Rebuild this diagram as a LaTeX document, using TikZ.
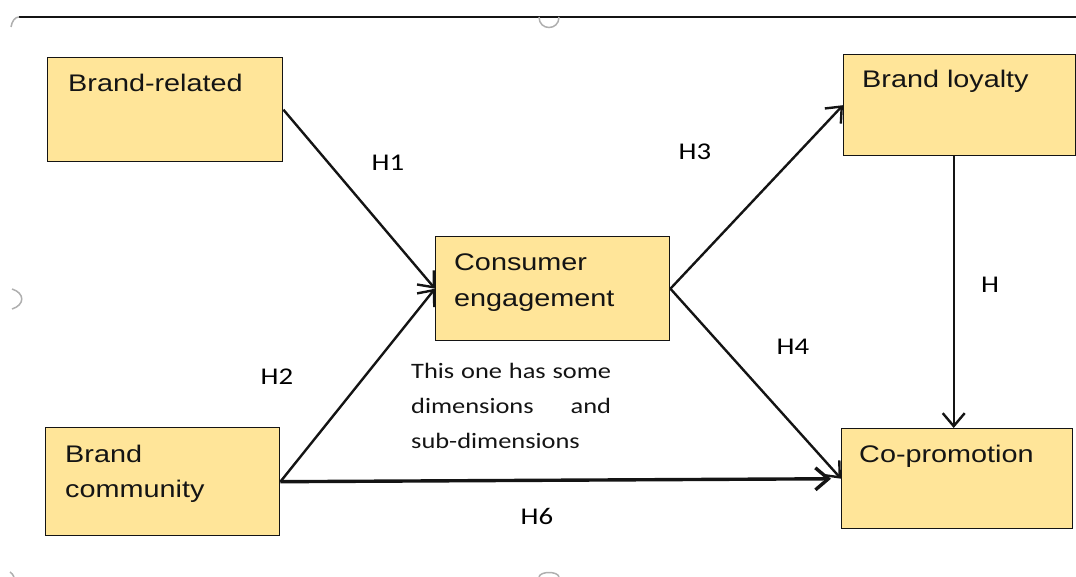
\documentclass[tikz,border=0pt]{standalone}
\usepackage{fontspec}
\setmainfont{Liberation Sans}
\newfontfamily\boxfont[FakeStretch=1.2]{Liberation Sans}
\newfontfamily\labfont[FakeStretch=1.2]{Carlito}
\usetikzlibrary{arrows.meta}
\definecolor{boxfill}{RGB}{255,229,153}
\definecolor{handle}{RGB}{175,175,175}
\definecolor{ink}{RGB}{20,20,20}

\begin{document}
\begin{tikzpicture}[x=1pt,y=-1pt,
  box/.style={draw=ink, line width=1.4pt, fill=boxfill, anchor=north west, inner sep=0pt},
  boxtext/.style={anchor=base west, inner sep=0pt, text=ink, font=\boxfont\fontsize{24}{35.5}\selectfont},
  hyp/.style={inner sep=0pt, font=\labfont\fontsize{24}{28}\selectfont},
  notetext/.style={anchor=base west, inner sep=0pt, text=ink, font=\labfont\fontsize{22}{35}\selectfont},
  link/.style={draw=ink, line width=2.4pt, -{Straight Barb[length=13pt,width=22pt]}},
  frame/.style={draw=ink, line width=1.8pt},
  grip/.style={handle, line width=1.5pt},
]
\useasboundingbox (0,0) rectangle (1076,577);

% frame line and grips
\draw[frame] (19,17) -- (1076,17);
\draw[grip] (19,17) .. controls (15,17) and (12,21) .. (11,27);
\draw[grip] (539,17) .. controls (539,31) and (559,31) .. (559,17);
\draw[grip] (12,289) .. controls (25,293) and (25,305) .. (12,309);
\draw[grip] (10,572) .. controls (12,573) and (13,575) .. (14,577);
\draw[grip] (539,577) .. controls (540,571) and (558,571) .. (559,577);

% boxes
\node[box, minimum width=235pt, minimum height=104pt] (br) at (47,57) {};
\node[box, minimum width=234pt, minimum height=104pt] (ce) at (435,236) {};
\node[box, minimum width=232pt, minimum height=101pt] (bl) at (843,54) {};
\node[box, minimum width=231pt, minimum height=100pt] (cp) at (841,428) {};
\node[box, minimum width=234pt, minimum height=108pt] (bc) at (45,427) {};

% box captions
\node[boxtext] (brt) at (68,92) {Brand-related};
\node[boxtext] (cet) at (454,271) {\parbox[t]{210pt}{Consumer\\engagement}};
\node[boxtext] (blt) at (862,88) {Brand loyalty};
\node[boxtext] (cpt) at (859,462) {Co-promotion};
\node[boxtext] (bct) at (65,462) {\parbox[t]{210pt}{Brand\\community}};

% note under the engagement box
\node[notetext] (note) at (411,378) {\parbox[t]{200pt}{\tolerance=10000\hyphenpenalty=10000 This one has some dimensions and sub-dimensions}};

% hypotheses
\draw[link] (br.east) -- (ce.west);
\draw[link] (bc.east) -- (ce.west);
\draw[link] (ce.east) -- (bl.west);
\draw[link] (ce.east) -- (cp.west);
\draw[link] ([xshift=-6pt]bl.south) -- ([xshift=-6pt]bl.south |- cp.north);
\draw[link, line width=3.4pt, shorten >=10pt] (bc.east) -- (cp.west);

\node[hyp] (h1) at (388,163) {H1};
\node[hyp] (h2) at (277,377) {H2};
\node[hyp] (h3) at (695,152) {H3};
\node[hyp] (h4) at (793,347) {H4};
\node[hyp] (h5) at (990,285) {H};
\node[hyp] (h6) at (537,516) {H6};
\end{tikzpicture}
\end{document}
